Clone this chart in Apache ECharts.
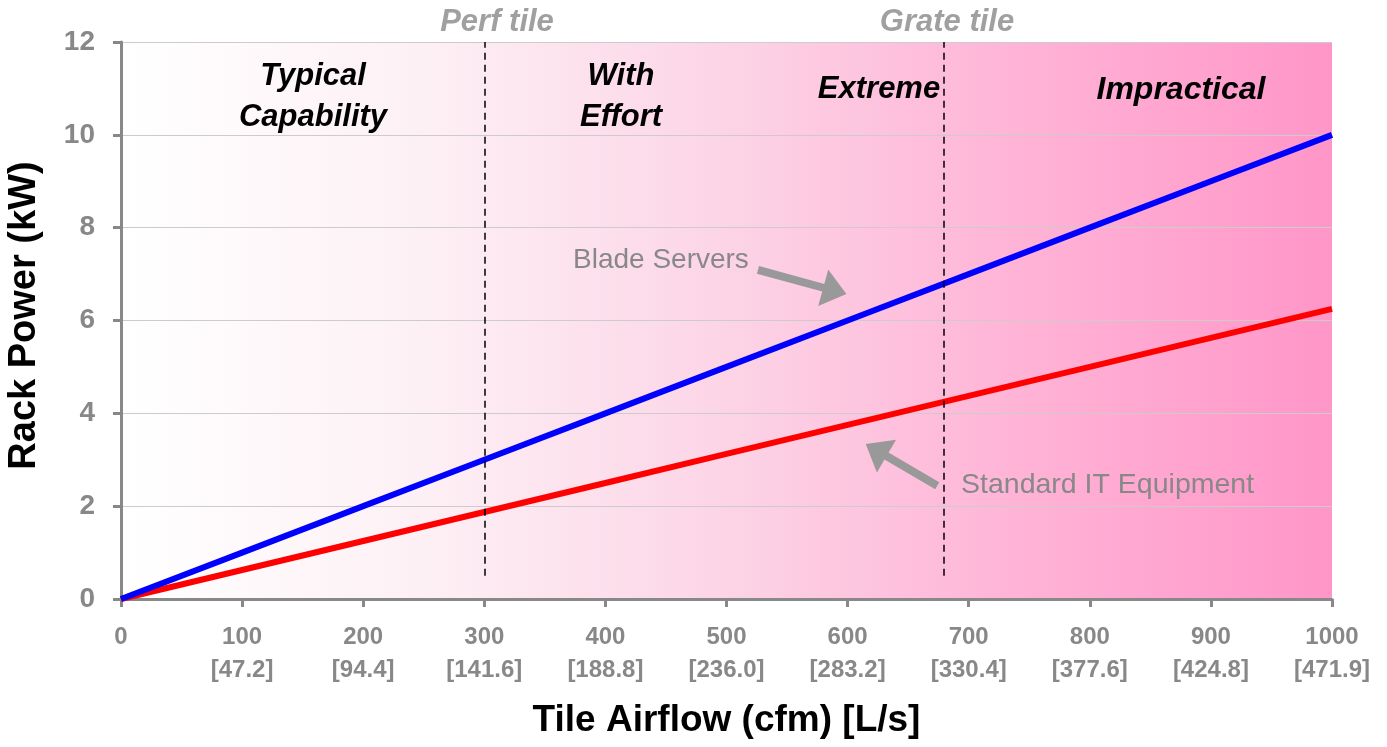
<!DOCTYPE html>
<html>
<head>
<meta charset="utf-8">
<script src="https://cdn.jsdelivr.net/npm/echarts@6/dist/echarts.min.js"></script>
<style>html,body{margin:0;padding:0;background:#fff}#c{width:1387px;height:747px}</style>
</head>
<body>
<div id="c"></div>
<script>
// ---- data ----
var airflowCfm = [0, 100, 200, 300, 400, 500, 600, 700, 800, 900, 1000];
var airflowLs = ['', '[47.2]', '[94.4]', '[141.6]', '[188.8]', '[236.0]', '[283.2]', '[330.4]', '[377.6]', '[424.8]', '[471.9]'];
var bladeServers = [0, 1, 2, 3, 4, 5, 6, 7, 8, 9, 10];
var standardIT = [0, 0.625, 1.25, 1.875, 2.5, 3.125, 3.75, 4.375, 5, 5.625, 6.25];
var tileLines = [300, 679];          // Perf tile, Grate tile boundaries (cfm)
var tileNames = ['Perf tile', 'Grate tile'];
var regionNames = ['Typical\nCapability', 'With\nEffort', 'Extreme', 'Impractical'];
// annotation arrows: [fromX, fromY, tipX, tipY] in data units
var arrowBlade = [526, 7.09, 599, 6.57];
var arrowStandard = [674, 2.44, 615, 3.34];

function pairs(xs, ys) { return xs.map(function (x, i) { return [x, ys[i]]; }); }

var FONT = "'Liberation Sans', Arial, sans-serif";
var chart = echarts.init(document.getElementById('c'), null, {renderer: 'canvas'});

function renderArrow(params, api) {
  var p1 = api.coord([api.value(0), api.value(1)]);
  var p2 = api.coord([api.value(2), api.value(3)]);
  var dx = p2[0] - p1[0], dy = p2[1] - p1[1];
  var len = Math.sqrt(dx * dx + dy * dy);
  var ux = dx / len, uy = dy / len;
  var headLen = 24, headHalf = 19;
  var bx = p2[0] - ux * headLen, by = p2[1] - uy * headLen;
  return {
    type: 'group',
    children: [
      {type: 'line', shape: {x1: p1[0], y1: p1[1], x2: bx + ux * 2, y2: by + uy * 2},
        style: {stroke: '#999999', lineWidth: 8}},
      {type: 'polygon', shape: {points: [
        [p2[0], p2[1]],
        [bx - uy * headHalf, by + ux * headHalf],
        [bx + uy * headHalf, by - ux * headHalf]
      ]}, style: {fill: '#999999'}}
    ]
  };
}

var regionStyle = {fontFamily: FONT, fontWeight: 'bold', fontStyle: 'italic', fill: '#000', textAlign: 'center', textVerticalAlign: 'middle'};
function rs(extra) { return Object.assign({}, regionStyle, extra); }

var option = {
  animation: false,
  grid: {
    left: 121, right: 55, top: 42, bottom: 148,
    outerBoundsMode: 'none', containLabel: false,
    show: true, borderWidth: 0,
    backgroundColor: new echarts.graphic.LinearGradient(0, 0, 1, 0, [
      {offset: 0, color: '#ffffff'},
      {offset: 0.25, color: '#fdf0f5'},
      {offset: 0.5, color: '#fcd4e6'},
      {offset: 0.75, color: '#ffb2d6'},
      {offset: 1, color: '#ff96c8'}
    ])
  },
  xAxis: {
    type: 'value', min: 0, max: 1000, interval: 100,
    name: 'Tile Airflow (cfm) [L/s]', nameLocation: 'middle', nameGap: 103,
    nameTextStyle: {fontFamily: FONT, fontWeight: 'bold', fontSize: 37, color: '#000'},
    axisLine: {show: true, onZero: false, lineStyle: {color: '#888888', width: 3}},
    axisTick: {show: true, length: 8, lineStyle: {color: '#888888', width: 3}},
    splitLine: {show: false},
    axisLabel: {
      margin: 22, fontFamily: FONT, fontWeight: 'bold', fontSize: 24, color: '#888888', lineHeight: 33,
      formatter: function (v) {
        var i = airflowCfm.indexOf(v);
        return i > 0 ? v + '\n' + airflowLs[i] : String(v);
      }
    }
  },
  yAxis: {
    type: 'value', min: 0, max: 12, interval: 2,
    name: 'Rack Power (kW)', nameLocation: 'middle', nameGap: 77,
    nameTextStyle: {fontFamily: FONT, fontWeight: 'bold', fontSize: 38, color: '#000', padding: [0, 0, 0, 10]},
    axisLine: {show: true, lineStyle: {color: '#888888', width: 3}},
    axisTick: {show: true, length: 8, lineStyle: {color: '#888888', width: 3}},
    splitLine: {show: true, lineStyle: {color: '#cccccc', width: 1}},
    axisLabel: {margin: 26, fontFamily: FONT, fontWeight: 'bold', fontSize: 28, color: '#888888'}
  },
  series: [
    {
      name: 'Standard IT Equipment', type: 'line', data: pairs(airflowCfm, standardIT),
      showSymbol: false, lineStyle: {color: '#ff0000', width: 6}, z: 3
    },
    {
      name: 'Blade Servers', type: 'line', data: pairs(airflowCfm, bladeServers),
      showSymbol: false, lineStyle: {color: '#0000ff', width: 6}, z: 4
    },
    {
      name: 'tiles', type: 'line', data: [], z: 2,
      markLine: {
        silent: true, symbol: ['none', 'none'], label: {show: false},
        lineStyle: {color: '#000', type: [7, 5], width: 1.5},
        data: tileLines.map(function (x) { return [{coord: [x, 0.5]}, {coord: [x, 12]}]; })
      }
    },
    {
      name: 'arrows', type: 'custom', z: 5, silent: true,
      renderItem: renderArrow,
      data: [arrowBlade, arrowStandard]
    }
  ],
  graphic: [
    {type: 'text', x: 497, y: 22, style: {text: tileNames[0], fontFamily: FONT, fontWeight: 'bold', fontStyle: 'italic', fontSize: 31, fill: '#a0a0a0', textAlign: 'center', textVerticalAlign: 'middle'}},
    {type: 'text', x: 947, y: 22, style: {text: tileNames[1], fontFamily: FONT, fontWeight: 'bold', fontStyle: 'italic', fontSize: 31, fill: '#a0a0a0', textAlign: 'center', textVerticalAlign: 'middle'}},
    {type: 'text', x: 313, y: 97, style: rs({text: regionNames[0], fontSize: 31, lineHeight: 41})},
    {type: 'text', x: 621, y: 97, style: rs({text: regionNames[1], fontSize: 31, lineHeight: 41})},
    {type: 'text', x: 879, y: 89, style: rs({text: regionNames[2], fontSize: 31})},
    {type: 'text', x: 1181, y: 90, style: rs({text: regionNames[3], fontSize: 32})},
    {type: 'text', x: 573, y: 260, style: {text: 'Blade Servers', fontFamily: FONT, fontSize: 28, fill: '#888888', textAlign: 'left', textVerticalAlign: 'middle'}},
    {type: 'text', x: 961, y: 485, style: {text: 'Standard IT Equipment', fontFamily: FONT, fontSize: 28.5, fill: '#888888', textAlign: 'left', textVerticalAlign: 'middle'}}
  ]
};
chart.setOption(option);
</script>
</body>
</html>
